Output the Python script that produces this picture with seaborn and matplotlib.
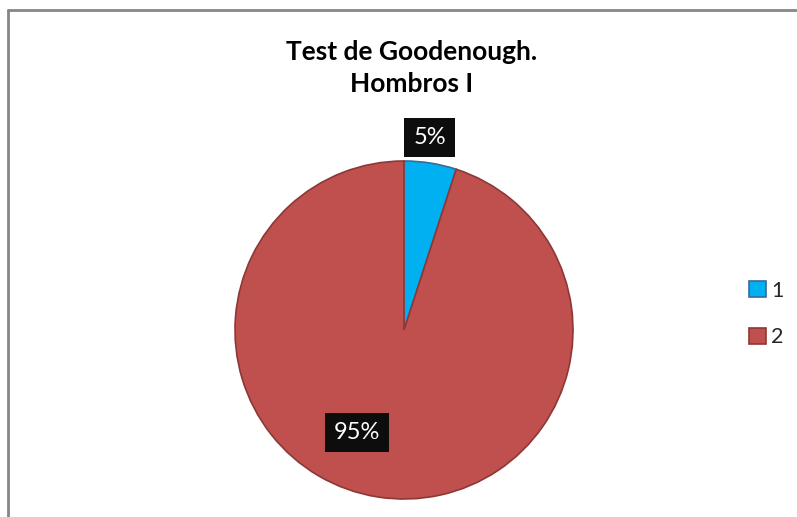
import matplotlib
matplotlib.use("Agg")
import matplotlib.pyplot as plt
import seaborn as sns
import numpy as np
from matplotlib.patches import Patch
from matplotlib.lines import Line2D

categories = ["1", "2"]
values = [5, 95]
pct_labels = ["5%", "95%"]
title_text = "Test de Goodenough.\nHombros I"

colors = ["#00B0F0", "#C0504D"]
edge_colors = ["#3A6A9A", "#8C3836"]

sns.set_theme(style="white")
plt.rcParams['font.family'] = ['Lato', 'DejaVu Sans']

W, H = 797, 517
fig = plt.figure(figsize=(W / 100, H / 100), dpi=100)
fig.patch.set_facecolor("white")

cx, cy, r = 404, 330, 169
ax = fig.add_axes([(cx - r) / W, (H - cy - r) / H, 2 * r / W, 2 * r / H])

wedges, _ = ax.pie(values, colors=colors, startangle=90, counterclock=False,
                   radius=1.0, wedgeprops=dict(linewidth=1.2))
for w, ec in zip(wedges, edge_colors):
    w.set_edgecolor(ec)
wedges[1].set_zorder(3)
wedges[0].set_zorder(2)
ax.set_xlim(-1, 1)
ax.set_ylim(-1, 1)
ax.set_aspect("equal")
ax.axis("off")

# label positions (angle in degrees, radius fraction)
label_pos = [(82.4, 1.15), (-114.6, 0.667)]
for txt, (ang, rad) in zip(pct_labels, label_pos):
    a = np.deg2rad(ang)
    ax.text(rad * np.cos(a), rad * np.sin(a), txt, ha="center", va="center",
            color="white", fontsize=17, zorder=5,
            bbox=dict(boxstyle="square,pad=0.38", fc="#0D0D0D", ec="none"))

fig.text(412 / W, 1 - 68 / H, title_text, ha="center", va="center",
         fontsize=19, fontweight="bold", color="black", linespacing=1.38)

handles = [Patch(facecolor=c, edgecolor=e, linewidth=1.2) for c, e in zip(colors, edge_colors)]
leg = fig.legend(handles, categories, loc="center left",
                 bbox_to_anchor=(730 / W, 1 - 314 / H), frameon=False,
                 fontsize=15.5, handlelength=0.75, handleheight=0.75,
                 handletextpad=0.25, labelspacing=1.25)

# chart border (top and left visible)
fig.add_artist(Line2D([8 / W, 1.0], [1 - 10 / H, 1 - 10 / H], color="#868686", lw=2,
                      transform=fig.transFigure))
fig.add_artist(Line2D([8 / W, 8 / W], [1 - 10 / H, 0.0], color="#868686", lw=2,
                      transform=fig.transFigure))

fig.savefig("out.png", dpi=100, facecolor="white")
